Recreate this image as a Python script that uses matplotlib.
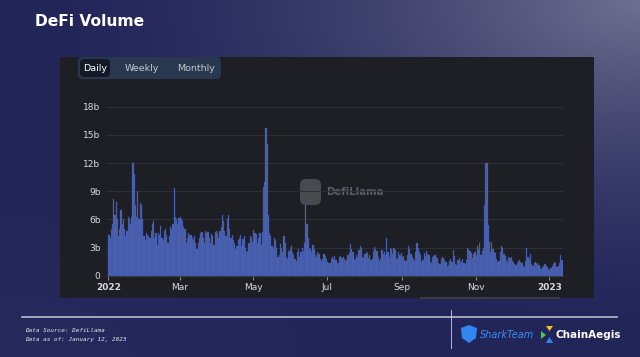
import numpy as np
import pandas as pd
import matplotlib
matplotlib.use("Agg")
import matplotlib.pyplot as plt
import matplotlib.dates as mdates
from matplotlib.patches import FancyBboxPatch, Rectangle, Polygon

# daily DeFi volume, billions USD
jan22 = [4.3, 4.0, 5.0, 5.5, 8.2, 6.5, 7.8, 6.0, 4.2, 5.0, 7.0, 5.5, 6.0, 5.0, 4.2, 4.8,
         6.3, 6.0, 5.5, 6.2, 12.0, 10.8, 7.5, 6.2, 9.0, 6.0, 7.7, 7.5, 6.0, 4.2, 3.8]
feb22 = [4.5, 4.3, 4.2, 4.0, 4.8, 5.5, 5.8, 4.0, 4.5, 3.3, 4.5, 4.3, 5.3, 4.0, 3.8, 4.8,
         5.0, 4.3, 3.5, 4.2, 5.2, 5.0, 5.5, 9.3, 6.3, 6.0, 5.5, 6.1]
mar22 = [6.2, 6.0, 5.8, 5.2, 5.0, 3.5, 4.0, 4.5, 4.3, 4.3, 4.0, 3.8, 4.2, 3.5, 2.8, 3.5,
         4.0, 4.5, 4.7, 4.0, 3.5, 4.8, 4.5, 4.7, 4.0, 3.5, 4.4, 4.2, 3.3, 4.7, 4.8]
apr22 = [4.5, 4.0, 4.8, 5.2, 6.5, 5.8, 4.8, 4.2, 6.0, 6.5, 5.0, 4.0, 4.3, 3.8, 3.5, 2.8,
         3.2, 3.8, 4.0, 4.3, 3.2, 3.9, 4.2, 3.0, 2.5, 2.6, 3.5, 4.2, 4.0, 3.6]
may22 = [4.9, 4.6, 4.4, 3.5, 4.0, 4.5, 3.3, 4.7, 9.5, 10.0, 15.7, 14.0, 6.5, 4.5, 4.2, 3.2,
         3.0, 4.0, 3.8, 3.0, 2.0, 2.2, 3.4, 3.0, 2.5, 4.2, 3.5, 2.0, 1.8, 2.6, 2.8]
jun22 = [3.2, 2.5, 2.2, 1.8, 1.6, 2.5, 2.8, 2.0, 2.5, 3.0, 2.6, 3.5, 7.5, 5.5, 4.0, 3.0,
         2.8, 2.5, 3.3, 2.8, 2.2, 2.0, 2.5, 2.3, 1.8, 1.6, 1.8, 2.3, 2.1, 1.8]
jul22 = [1.5, 1.4, 1.3, 1.8, 2.0, 1.8, 2.1, 1.7, 1.3, 1.4, 2.0, 2.1, 1.9, 2.0, 1.8, 1.6,
         1.7, 2.2, 2.4, 3.4, 2.8, 2.5, 1.8, 1.8, 2.2, 2.0, 2.7, 3.2, 2.9, 2.0, 1.9]
aug22 = [2.3, 2.5, 2.4, 1.9, 2.2, 1.7, 1.8, 2.6, 3.1, 2.8, 2.6, 2.0, 1.6, 1.8, 2.7, 2.3,
         2.5, 2.2, 4.0, 2.5, 2.0, 3.0, 2.8, 2.3, 2.9, 2.7, 1.9, 1.8, 2.5, 2.2, 2.4]
sep22 = [2.0, 2.1, 1.7, 1.6, 2.2, 3.2, 2.8, 2.3, 2.0, 1.8, 1.6, 2.5, 3.5, 2.9, 2.5, 2.2,
         1.5, 1.7, 2.4, 2.1, 2.6, 2.3, 2.2, 1.5, 1.4, 2.0, 2.1, 2.2, 2.0, 1.9]
oct22 = [1.3, 1.2, 1.8, 2.0, 1.9, 1.7, 1.5, 1.0, 1.1, 1.6, 1.8, 1.5, 2.7, 2.1, 1.2, 1.1,
         1.7, 1.9, 1.6, 1.5, 1.8, 1.3, 1.2, 1.7, 3.0, 2.8, 2.6, 2.4, 1.9, 2.3, 2.5]
nov22 = [2.2, 3.2, 2.8, 3.5, 2.2, 2.6, 3.0, 7.5, 12.0, 12.0, 5.4, 3.6, 2.5, 3.6, 2.8, 2.5,
         2.4, 1.8, 1.5, 1.6, 2.5, 3.2, 3.0, 2.3, 2.1, 1.7, 1.5, 2.0, 1.9, 2.0]
dec22 = [1.6, 1.5, 1.2, 1.1, 1.4, 1.6, 1.7, 1.5, 1.3, 1.0, 0.9, 1.6, 2.9, 2.0, 1.8, 2.3,
         1.2, 1.0, 1.4, 1.5, 1.2, 1.3, 1.1, 0.8, 0.7, 0.9, 1.0, 1.2, 1.0, 0.9, 0.7]
jan23 = [0.6, 0.8, 1.0, 1.2, 1.5, 1.3, 0.9, 1.0, 1.3, 2.2, 1.7]

volume = (jan22 + feb22 + mar22 + apr22 + may22 + jun22 + jul22 + aug22 + sep22
          + oct22 + nov22 + dec22 + jan23)
dates = pd.date_range("2022-01-01", periods=len(volume), freq="D")

y_ticks = [0, 3, 6, 9, 12, 15, 18]
y_labels = ["0", "3b", "6b", "9b", "12b", "15b", "18b"]
x_ticks = ["2022-01-01", "2022-03-01", "2022-05-01", "2022-07-01",
           "2022-09-01", "2022-11-01", "2023-01-01"]
x_labels = ["2022", "Mar", "May", "Jul", "Sep", "Nov", "2023"]

W, H = 640, 357
fig = plt.figure(figsize=(W / 100, H / 100), dpi=100)

# slide background gradient
bg = fig.add_axes([0, 0, 1, 1])
xx, yy = np.meshgrid(np.linspace(0, 1, 320), np.linspace(0, 1, 180))
base = np.array([0x22, 0x25, 0x58]) / 255
light = np.array([0x6e, 0x6f, 0x90]) / 255
d = np.sqrt(((1 - xx) * 1.0) ** 2 + (yy * 1.0) ** 2)
t = np.clip(1 - d / 0.95, 0, 1) ** 1.6
t2 = np.clip(1 - np.sqrt(xx ** 2 + ((1 - yy) * 1.2) ** 2) / 0.6, 0, 1) * 0.15
img = base[None, None, :] * (1 - t[..., None]) + light[None, None, :] * t[..., None]
img = img + t2[..., None] * 0.12
bg.imshow(np.clip(img, 0, 1), extent=[0, W, H, 0], aspect="auto")
bg.set_xlim(0, W)
bg.set_ylim(H, 0)
bg.axis("off")

bg.text(35, 22, "DeFi Volume", color="white", fontsize=11.2, fontweight="bold",
        va="center", ha="left")

# dark chart panel
bg.add_patch(Rectangle((60, 57), 534, 241, facecolor="#1e1f25", edgecolor="none"))
bg.add_patch(Rectangle((420, 297), 140, 2, facecolor="#3a3b44", edgecolor="none"))

# period toggle
bg.add_patch(FancyBboxPatch((78, 57), 143, 22, boxstyle="round,pad=0,rounding_size=5",
                            facecolor="#29374f", edgecolor="none"))
bg.add_patch(FancyBboxPatch((80, 59), 30, 18, boxstyle="round,pad=0,rounding_size=4",
                            facecolor="#131a25", edgecolor="none"))
bg.text(95, 68.5, "Daily", color="white", fontsize=6.8, ha="center", va="center")
bg.text(142, 68.5, "Weekly", color="#c4c8d0", fontsize=6.8, ha="center", va="center")
bg.text(196, 68.5, "Monthly", color="#c4c8d0", fontsize=6.8, ha="center", va="center")

# watermark
bg.add_patch(FancyBboxPatch((300, 179), 21, 26, boxstyle="round,pad=0,rounding_size=6",
                            facecolor="#55565c", edgecolor="none", alpha=0.8))
bg.text(326, 192, "DefiLlama", color="#5d5e66", fontsize=7.3, fontweight="bold",
        ha="left", va="center")

# footer
bg.plot([22, 617], [317, 317], color="#b8bccb", lw=1.2)
bg.plot([451, 451], [310, 348], color="#d0d2dc", lw=0.6)
bg.text(25, 331, "Data Source: DefiLlama", color="#e6e6ee", fontsize=4.3,
        style="italic", family="DejaVu Sans Mono", va="center")
bg.text(25, 340, "Data as of: January 12, 2023", color="#e6e6ee", fontsize=4.3,
        style="italic", family="DejaVu Sans Mono", va="center")
bg.add_patch(Polygon([[461, 328], [469, 325], [477, 328], [476, 338], [469, 343],
                      [462, 338]], closed=True, facecolor="#2f86ee", edgecolor="none"))
bg.text(480, 335, "SharkTeam", color="#3d8ef2", fontsize=7, style="italic",
        ha="left", va="center")
bg.add_patch(Polygon([[541, 331], [546, 335], [541, 339]], closed=True,
                     facecolor="#3fd04a", edgecolor="none"))
bg.add_patch(Polygon([[546, 326], [553, 326], [549.5, 331]], closed=True,
                     facecolor="#f2c41c", edgecolor="none"))
bg.add_patch(Polygon([[546, 343], [553, 343], [549.5, 337]], closed=True,
                     facecolor="#2f86ee", edgecolor="none"))
bg.text(555, 335, "ChainAegis", color="white", fontsize=7.5, fontweight="bold",
        ha="left", va="center")

# bar chart
x0, x1 = 106, 563
y0, y1 = 275.7, 106.7
ax = fig.add_axes([x0 / W, 1 - y0 / H, (x1 - x0) / W, (y0 - y1) / H])
ax.set_facecolor("none")
nums = mdates.date2num(dates)
ax.bar(nums, volume, width=1.0, align="edge", color="#4b64b4", edgecolor="#3e559c",
       linewidth=0.2)
start = mdates.date2num(pd.Timestamp("2022-01-01"))
ax.set_xlim(start - 1.9, start + 365 + 11.4)
ax.set_ylim(0, 18)
ax.set_yticks(y_ticks)
ax.set_yticklabels(y_labels)
ax.set_xticks(mdates.date2num(pd.to_datetime(x_ticks)))
ax.set_xticklabels(x_labels)
for lbl in ax.get_xticklabels():
    if lbl.get_text() in ("2022", "2023"):
        lbl.set_fontweight("bold")
ax.grid(axis="y", color="#2e2f37", lw=0.7)
ax.set_axisbelow(True)
for s in ["top", "right", "left"]:
    ax.spines[s].set_visible(False)
ax.spines["bottom"].set_color("#3a3b44")
ax.tick_params(axis="y", length=0, colors="#d8d8de", labelsize=6.5, pad=4)
ax.tick_params(axis="x", length=3, width=0.6, color="#a0a0a8", colors="#d8d8de",
               labelsize=6.5, pad=2)

fig.savefig("out.png", dpi=100)
